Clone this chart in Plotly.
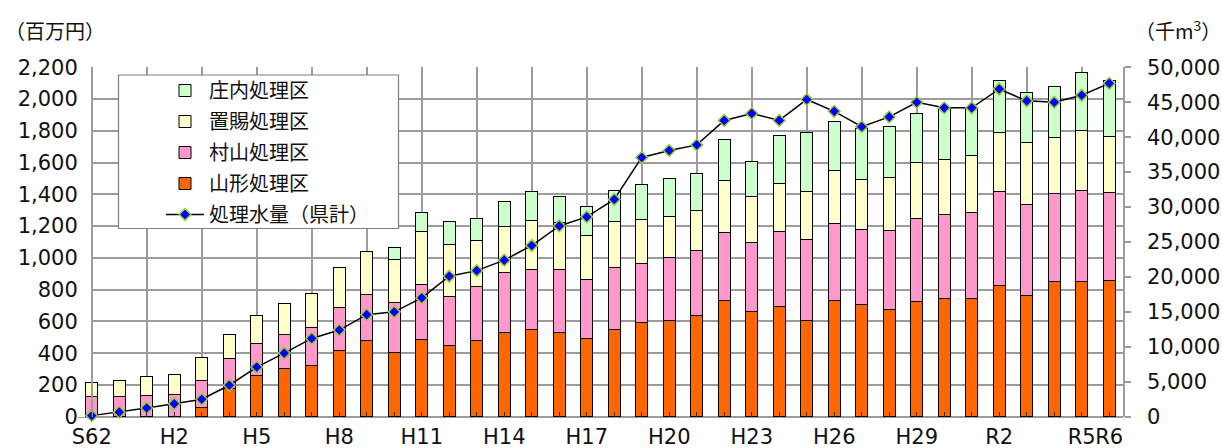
import plotly.graph_objects as go

# ---- data ----
years = ["S62", "S63",
         "H1", "H2", "H3", "H4", "H5", "H6", "H7", "H8", "H9", "H10",
         "H11", "H12", "H13", "H14", "H15", "H16", "H17", "H18", "H19", "H20",
         "H21", "H22", "H23", "H24", "H25", "H26", "H27", "H28", "H29", "H30",
         "R1", "R2", "R3", "R4", "R5", "R6"]
tick_labels = ["S62", "H2", "H5", "H8", "H11", "H14", "H17", "H20", "H23",
               "H26", "H29", "R2", "R5", "R6"]

# 百万円
yamagata = [0, 0, 0, 0, 59, 175, 262, 304, 325, 415, 478, 404,
            488, 446, 482, 528, 549, 528, 493, 549, 591, 608,
            639, 729, 664, 696, 606, 733, 706, 677, 723, 744,
            744, 823, 765, 853, 849, 859]
murayama = [126, 126, 136, 142, 167, 192, 199, 214, 237, 272, 291, 313,
            346, 308, 339, 377, 379, 398, 371, 390, 373, 394,
            409, 434, 430, 473, 509, 486, 472, 496, 528, 528,
            540, 598, 572, 555, 576, 551]
okitama = [88, 104, 115, 126, 147, 151, 178, 194, 213, 250, 274, 274,
           333, 331, 289, 294, 308, 294, 274, 293, 276, 259,
           251, 325, 295, 298, 303, 331, 316, 336, 348, 350,
           361, 368, 387, 352, 377, 354]
shonai = [0, 0, 0, 0, 0, 0, 0, 0, 0, 0, 0, 73,
          117, 141, 137, 159, 185, 167, 186, 193, 220, 237,
          235, 257, 220, 303, 369, 308, 318, 316, 313, 316,
          293, 327, 319, 318, 367, 356]
# 千m3
water = [150, 650, 1250, 1850, 2500, 4500, 7100, 9100, 11200, 12400, 14600, 15000,
         17000, 20100, 20900, 22400, 24500, 27300, 28600, 31100, 37100, 38100,
         38900, 42400, 43400, 42400, 45400, 43700, 41500, 42900, 45000, 44200,
         44200, 46900, 45200, 45000, 46000, 47700]

x = list(range(len(years)))
tickvals = [i for i, y in enumerate(years) if y in tick_labels]
ticktext = [y for y in years if y in tick_labels]

JP = "Noto Sans CJK JP, DejaVu Sans, sans-serif"
NUM = "DejaVu Sans, Noto Sans CJK JP, sans-serif"
GRID = "#9c9c9c"

fig = go.Figure()
bar_specs = [
    ("山形処理区", yamagata, "#FF6600", 4),
    ("村山処理区", murayama, "#FF99CC", 3),
    ("置賜処理区", okitama, "#FFFFCC", 2),
    ("庄内処理区", shonai, "#CCFFCC", 1),
]
for name, vals, color, rank in bar_specs:
    fig.add_trace(go.Bar(
        x=x, y=vals, name=name, width=0.42,
        marker=dict(color=color, line=dict(color="#000000", width=1)),
        legendrank=rank, legendgroup=name,
        customdata=years, hovertemplate="%{customdata}: %{y}<extra>" + name + "</extra>",
    ))
fig.add_trace(go.Scatter(
    x=x, y=water, name="処理水量（県計）", yaxis="y2", mode="lines+markers",
    line=dict(color="#000000", width=1.5),
    marker=dict(symbol="diamond", size=9, color="#0000FF",
                line=dict(color="#99CC33", width=1.5)),
    cliponaxis=False, legendrank=5, legendgroup="water",
    customdata=years, hovertemplate="%{customdata}: %{y}<extra></extra>",
))
# carrier trace for the vertical grid axis (no visible data)
fig.add_trace(go.Scatter(x=[None], y=[None], xaxis="x2", yaxis="y", showlegend=False,
                         hoverinfo="skip"))

pad = 2
fig.update_layout(
    width=1222, height=448,
    margin=dict(l=78, r=99, t=67, b=31, autoexpand=False),
    paper_bgcolor="white", plot_bgcolor="white",
    barmode="stack",
    font=dict(family=NUM, size=21, color="#111111"),
    showlegend=True,
    legend=dict(
        x=(161 - 78) / 1045, y=(417 - 71) / 350, xanchor="left", yanchor="top",
        bgcolor="rgba(0,0,0,0)", borderwidth=0,
        font=dict(family=JP, size=20, color="#111111"),
        traceorder="grouped", tracegroupgap=2, itemwidth=38,
    ),
    xaxis=dict(
        range=[-0.5, 37.5], tickmode="array", tickvals=tickvals, ticktext=ticktext,
        tickangle=0, automargin=False,
        showgrid=False, zeroline=False, showline=False,
        ticks="", ticklabelstandoff=5,
        tickfont=dict(family=NUM, size=21),
        minor=dict(tickmode="linear", tick0=0, dtick=1, showgrid=False,
                   ticks="inside", ticklen=5, tickcolor="#333333", tickwidth=1),
    ),
    xaxis2=dict(
        range=[-0.5, 37.5], overlaying="x", anchor="y", matches="x",
        showticklabels=False, ticks="", zeroline=False,
        tickmode="linear", tick0=0, dtick=2,
        showgrid=True, gridcolor=GRID, gridwidth=1.5,
    ),
    yaxis=dict(
        range=[-pad, 2200 + pad], dtick=200, tick0=0, tickformat=",",
        showgrid=True, gridcolor=GRID, gridwidth=1.5,
        zeroline=True, zerolinecolor=GRID, zerolinewidth=1.5,
        showline=True, linecolor=GRID, linewidth=1.5,
        anchor="free", position=13.75 / 1045, automargin=False,
        ticks="", ticklabelstandoff=9,
        tickfont=dict(family=NUM, size=21),
    ),
    yaxis2=dict(
        range=[-pad / 2200 * 50000, 50000 + pad / 2200 * 50000],
        dtick=5000, tick0=0, tickformat=",",
        overlaying="y", side="right", anchor="x", automargin=False,
        showgrid=False, zeroline=False,
        showline=True, linecolor=GRID, linewidth=1.5,
        ticks="outside", ticklen=6, tickcolor=GRID, tickwidth=1.5,
        ticklabelstandoff=12,
        tickfont=dict(family=NUM, size=21),
    ),
    shapes=[
        # hide gridline overhang left of the value axis
        dict(type="rect", xref="x", yref="y", x0=-0.5, x1=0, y0=-pad, y1=2200 + pad,
             fillcolor="white", line=dict(width=0), layer="between"),
        # legend frame
        dict(type="rect", xref="paper", yref="paper",
             x0=(118.5 - 78) / 1045, x1=(398.5 - 78) / 1045,
             y0=(417 - 228.5) / 350, y1=(417 - 75) / 350,
             fillcolor="white", line=dict(color="#808080", width=1.2), layer="above"),
    ],
    annotations=[
        dict(text="（百万円）", xref="paper", yref="paper",
             x=(54.5 - 78) / 1045, y=(417 - 30) / 350, xanchor="center", yanchor="middle",
             showarrow=False, font=dict(family=JP, size=20, color="#111111")),
        dict(text="（千m<sup>3</sup>）", xref="paper", yref="paper",
             x=(1178 - 78) / 1045, y=(417 - 30) / 350, xanchor="center", yanchor="middle",
             showarrow=False, font=dict(family=JP, size=20, color="#111111")),
    ],
)

fig.write_html(
    "out.html",
    config={"displayModeBar": False},
    post_script="document.body.style.margin='0px';document.body.style.overflow='hidden';",
)
